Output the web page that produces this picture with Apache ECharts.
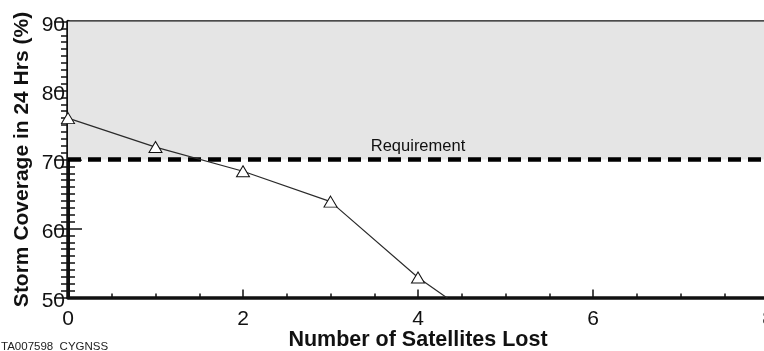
<!DOCTYPE html>
<html>
<head>
<meta charset="utf-8">
<script src="https://cdn.jsdelivr.net/npm/echarts@6/dist/echarts.min.js"></script>
<style>
  html, body { margin: 0; padding: 0; background: #fff; }
  #chart { width: 764px; height: 351px; }
</style>
</head>
<body>
<div id="chart"></div>
<script>
// Storm coverage as satellites drop out of the constellation
const satellitesLost = [0, 1, 2, 3, 4, 5];
const coveragePct    = [76.0, 71.8, 68.3, 63.9, 52.9, 44.0];
const requirementPct = 70;
const yRange = [50, 90];
const xRange = [0, 8];

const sans = "'Liberation Sans', Arial, Helvetica, sans-serif";
const ink = '#111';

const points = satellitesLost.map((x, i) => {
  const item = { value: [x, coveragePct[i]] };
  // last point only continues the line below the axis floor
  if (i === satellitesLost.length - 1) item.symbol = 'none';
  return item;
});

const chart = echarts.init(document.getElementById('chart'), null, { renderer: 'canvas' });

const tickCommon = { inside: true, lineStyle: { color: ink, width: 1.5 } };

chart.setOption({
  animation: false,
  backgroundColor: '#ffffff',
  grid: {
    left: 68, right: -4, top: 21.5, bottom: 53.5,
    containLabel: false, outerBoundsMode: 'none'
  },
  xAxis: [
    {
      type: 'value', min: xRange[0], max: xRange[1], interval: 2,
      position: 'bottom',
      name: 'Number of Satellites Lost', nameLocation: 'middle', nameGap: 32,
      nameMoveOverlap: false,
      nameTextStyle: { fontFamily: sans, fontWeight: 'bold', fontSize: 21.5, color: ink },
      axisLine: { show: true, lineStyle: { color: ink, width: 3.5 } },
      axisTick: Object.assign({ length: 8 }, tickCommon),
      minorTick: { show: true, splitNumber: 4, length: 4, lineStyle: { color: ink, width: 1.5 } },
      splitLine: { show: false },
      axisLabel: { fontFamily: sans, fontSize: 21, color: ink, margin: 11 }
    },
    {
      type: 'value', min: xRange[0], max: xRange[1], interval: 2,
      position: 'top',
      axisLine: { show: true, lineStyle: { color: ink, width: 2.5 } },
      axisTick: Object.assign({ length: 10 }, tickCommon),
      minorTick: { show: true, splitNumber: 4, length: 5, lineStyle: { color: ink, width: 1.5 } },
      splitLine: { show: false },
      axisLabel: { show: false }
    }
  ],
  yAxis: [
    {
      type: 'value', min: yRange[0], max: yRange[1], interval: 10,
      position: 'left',
      name: 'Storm Coverage in 24 Hrs (%)', nameLocation: 'middle', nameGap: 35,
      nameMoveOverlap: false,
      nameTextStyle: { fontFamily: sans, fontWeight: 'bold', fontSize: 21, color: ink },
      axisLine: { show: true, lineStyle: { color: ink, width: 3.5 } },
      axisTick: Object.assign({ length: 14 }, tickCommon),
      minorTick: { show: true, splitNumber: 10, length: 7, lineStyle: { color: ink, width: 1.5 } },
      splitLine: { show: false },
      axisLabel: {
        margin: 3,
        formatter: '{v|{value}}',
        rich: { v: { fontFamily: sans, fontSize: 21, color: ink, padding: [7, 0, 0, 0] } }
      }
    },
    {
      type: 'value', min: yRange[0], max: yRange[1], interval: 10,
      position: 'right',
      axisLine: { show: true, lineStyle: { color: ink, width: 3 } },
      axisTick: Object.assign({ length: 14 }, tickCommon),
      minorTick: { show: true, splitNumber: 10, length: 7, lineStyle: { color: ink, width: 1.5 } },
      splitLine: { show: false },
      axisLabel: { show: false }
    }
  ],
  graphic: [
    {
      type: 'text', left: 1, bottom: -2,
      style: { text: 'TA007598  CYGNSS', fontFamily: sans, fontSize: 11.5, fill: '#222' }
    }
  ],
  series: [
    {
      type: 'line',
      xAxisIndex: 0, yAxisIndex: 0,
      data: points,
      clip: true,
      symbol: 'triangle',
      symbolSize: [13, 11],
      lineStyle: { color: '#2a2a2a', width: 1.2 },
      itemStyle: { color: '#ffffff', borderColor: '#111', borderWidth: 1 },
      z: 5,
      markArea: {
        silent: true,
        itemStyle: { color: '#e5e5e5' },
        data: [[{ yAxis: requirementPct }, { yAxis: yRange[1] }]]
      },
      markLine: {
        silent: true,
        symbol: ['none', 'none'],
        lineStyle: { color: '#000', width: 4.5, type: [13, 7] },
        label: {
          show: true, position: 'insideMiddleTop', formatter: 'Requirement',
          fontFamily: sans, fontSize: 16.5, color: ink, distance: 5
        },
        data: [{ yAxis: requirementPct }]
      }
    }
  ]
});
</script>
</body>
</html>
